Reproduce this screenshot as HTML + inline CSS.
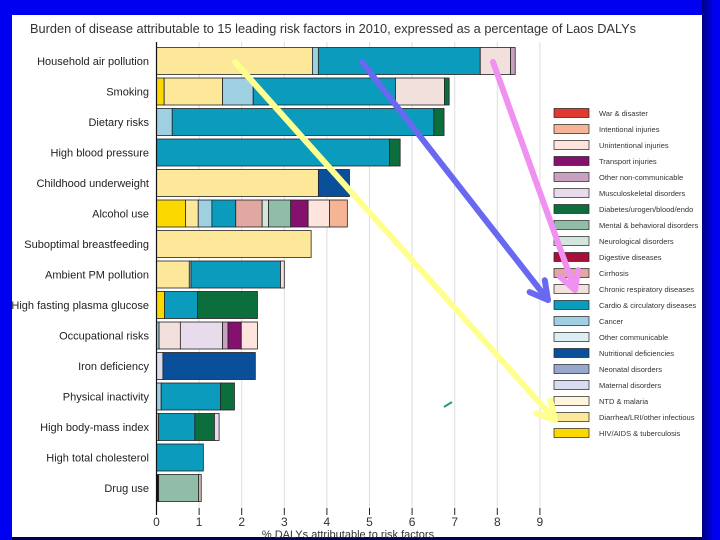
<!DOCTYPE html>
<html><head><meta charset="utf-8">
<style>
html,body{margin:0;padding:0;background:#0000f0;}
#wrap{position:relative;width:720px;height:540px;overflow:hidden;background:#0000f0;font-family:"Liberation Sans",sans-serif;}
svg{position:absolute;left:0;top:0;}
</style></head>
<body>
<div id="wrap">
<svg id="chart" width="720" height="540">
  <defs>
    <linearGradient id="rg" x1="0" x2="1" y1="0" y2="0">
      <stop offset="0" stop-color="#00007a"/><stop offset="1" stop-color="#0000f0"/>
    </linearGradient>
  </defs>
  <rect x="702" y="0" width="12" height="540" fill="url(#rg)"/>
  <rect x="12" y="15" width="690" height="523" fill="#ffffff"/>
  <rect x="12" y="537" width="690" height="3" fill="#000050"/>
  <text x="30" y="33" font-size="12.8" textLength="606" lengthAdjust="spacingAndGlyphs" fill="#333">Burden of disease attributable to 15 leading risk factors in 2010, expressed as a percentage of Laos DALYs</text>
  <g id="grid"></g><g id="bars"></g><g id="axis"></g><g id="legend"></g><g id="arrows"></g>
</svg>
</div>
<script>
const riskFactors = ["Household air pollution","Smoking","Dietary risks","High blood pressure","Childhood underweight","Alcohol use","Suboptimal breastfeeding","Ambient PM pollution","High fasting plasma glucose","Occupational risks","Iron deficiency","Physical inactivity","High body-mass index","High total cholesterol","Drug use"];
const segDiarrheaHousehold = [["diar",3.66],["canc",0.14],["card",3.80],["resp",0.71],["oth",0.11]];
const segSmoking = [["hiv",0.18],["diar",1.37],["canc",0.72],["card",3.34],["resp",1.15],["diab",0.11]];
const segDiet = [["canc",0.37],["card",6.14],["diab",0.24]];
const segBP = [["card",5.47],["diab",0.25]];
const segUnderweight = [["diar",3.80],["nutr",0.73]];
const segAlcohol = [["hiv",0.68],["diar",0.30],["canc",0.32],["card",0.56],["cirr",0.62],["neur",0.15],["ment",0.52],["trans",0.41],["unint",0.50],["intent",0.42]];
const segBreast = [["diar",3.63]];
const segPM = [["diar",0.77],["canc",0.04],["card",2.10],["resp",0.09]];
const segFPG = [["hiv",0.19],["card",0.77],["diab",1.41]];
const segOccup = [["canc",0.06],["resp",0.50],["musc",0.99],["oth",0.13],["trans",0.31],["unint",0.38]];
const segIron = [["mat",0.15],["nutr",2.17]];
const segInactive = [["canc",0.11],["card",1.39],["diab",0.33]];
const segBMI = [["canc",0.05],["card",0.85],["diab",0.46],["musc",0.11]];
const segChol = [["card",1.10]];
const segDrug = [["war2",0.05],["ment",0.94],["oth2",0.06]];
const allSegs = [segDiarrheaHousehold,segSmoking,segDiet,segBP,segUnderweight,segAlcohol,segBreast,segPM,segFPG,segOccup,segIron,segInactive,segBMI,segChol,segDrug];
const xTicks = [0,1,2,3,4,5,6,7,8,9];
const legendLabels = ["War & disaster","Intentional injuries","Unintentional injuries","Transport injuries","Other non-communicable","Musculoskeletal disorders","Diabetes/urogen/blood/endo","Mental & behavioral disorders","Neurological disorders","Digestive diseases","Cirrhosis","Chronic respiratory diseases","Cardio & circulatory diseases","Cancer","Other communicable","Nutritional deficiencies","Neonatal disorders","Maternal disorders","NTD & malaria","Diarrhea/LRI/other infectious","HIV/AIDS & tuberculosis"];
const legendKeys = ["war","intent","unint","trans","oth","musc","diab","ment","neur","dig","cirr","resp","card","canc","othc","nutr","neo","mat","ntd","diar","hiv"];
const colors = {war:"#e03a30",intent:"#f6b496",unint:"#fde4dc",trans:"#86106e",oth:"#c8a0c0",musc:"#e8dcec",diab:"#0c6e3c",ment:"#90bca8",neur:"#d2e6dc",dig:"#a8103a",cirr:"#e0a8a0",resp:"#f2e0dc",card:"#0a9bbd",canc:"#9ed0e2",othc:"#dceef4",nutr:"#0a4f9a",neo:"#98a8cc",mat:"#d8dcf0",ntd:"#fff4dc",diar:"#fde89a",hiv:"#fbd800",war2:"#111111",oth2:"#d8c0b8"};

const NS="http://www.w3.org/2000/svg";
const X0=156.5, UNIT=42.6, Y_TOP=42, Y_AXIS=508, ROW0=61, ROWH=30.5, BARH=27;
const xs=v=>X0+v*UNIT;
const ys=i=>ROW0+i*ROWH;
function mk(tag,attrs,parent){const e=document.createElementNS(NS,tag);for(const k in attrs)e.setAttribute(k,attrs[k]);parent.appendChild(e);return e;}
const grid=document.getElementById('grid'),bars=document.getElementById('bars'),axis=document.getElementById('axis'),legend=document.getElementById('legend'),arrows=document.getElementById('arrows');

xTicks.forEach(t=>{
  if(t>0){const g=mk('line',{x1:xs(t),x2:xs(t),y1:Y_TOP,y2:Y_AXIS,stroke:"#dddddd","stroke-width":1},grid);
  
  }
  const tk=mk('line',{x1:xs(t),x2:xs(t),y1:Y_AXIS,y2:Y_AXIS+7,stroke:"#222","stroke-width":1},axis);
  
  
  const lb=mk('text',{x:xs(t),y:Y_AXIS+18,"font-size":12,"text-anchor":"middle",fill:"#333"},axis);
  lb.textContent=t;
  
  
});
const al=mk('line',{x1:X0,x2:X0,y1:Y_TOP,y2:Y_AXIS+7,stroke:"#111","stroke-width":1.2},axis);


const at=mk('text',{x:348,y:538,"font-size":11,"text-anchor":"middle",fill:"#333"},axis);
at.textContent="% DALYs attributable to risk factors";



riskFactors.forEach((rf,i)=>{
  const y=ys(i);
  const lab=mk('text',{x:149,y:y+4,"font-size":11,"text-anchor":"end",fill:"#222"},axis);
  lab.textContent=rf;
  
  
  let acc=0;
  const segs=allSegs[i];
  const g=mk('g',{},bars);
  
  
  segs.forEach(s=>{
    const r=mk('rect',{x:xs(acc),y:y-BARH/2,width:s[1]*UNIT,height:BARH,fill:colors[s[0]],stroke:"#222","stroke-width":0.8},g);
    
    
    acc+=s[1];
  });
});

legendLabels.forEach((l,i)=>{
  const y=113+i*16;
  const r=mk('rect',{x:554,y:y-4.5,width:35,height:9,fill:colors[legendKeys[i]],stroke:"#222","stroke-width":0.7},legend);
  
  
  const t=mk('text',{x:599,y:y+3,"font-size":7.5,fill:"#333"},legend);
  t.textContent=l;
  
  
});

function arrow(x1,y1,x2,y2,col,name){
  const g=mk('g',{},arrows);
  
  
  mk('line',{x1,y1,x2,y2,stroke:col,"stroke-width":6,"stroke-linecap":"round"},g);
  const a=Math.atan2(y2-y1,x2-x1),L=20,w=0.5;
  const p1=[x2-L*Math.cos(a-w),y2-L*Math.sin(a-w)],p2=[x2-L*Math.cos(a+w),y2-L*Math.sin(a+w)];
  mk('polyline',{points:`${p1} ${x2},${y2} ${p2}`,fill:"none",stroke:col,"stroke-width":6,"stroke-linecap":"round","stroke-linejoin":"round"},g);
}
arrow(235,62,555,420,"#ffff90","yellow-arrow");
arrow(362,62,548,300,"#6868f0","blue-arrow");
arrow(493,62,575,290,"#f090f0","pink-arrow");
const m=mk('line',{x1:444,y1:407,x2:452,y2:402,stroke:"#2a9a80","stroke-width":2},arrows);


</script>
</body></html>
